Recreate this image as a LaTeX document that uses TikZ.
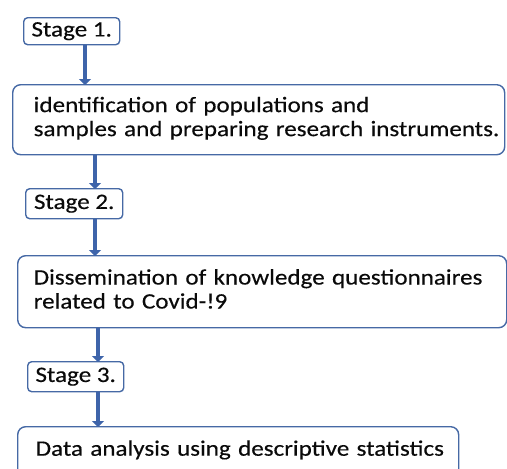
\documentclass[tikz,border=0pt]{standalone}
\usepackage{fontspec}
\setmainfont{Carlito}[FakeStretch=1.14,FakeBold=0.3]
\usetikzlibrary{arrows.meta}
\definecolor{edge}{RGB}{70,105,165}
\definecolor{arrowblue}{RGB}{62,100,170}
\definecolor{ink}{RGB}{10,10,10}
\tikzset{
  box/.style={draw=edge, line width=1.4pt, rounded corners=8pt, fill=white,
    anchor=north west, inner ysep=0pt, text=ink,
    font=\fontsize{22}{24}\selectfont},
  stagebox/.style={box, rounded corners=4pt, inner xsep=0pt},
  flowarrow/.style={draw=arrowblue, line width=4.5pt,
    -{Triangle[width=12pt,length=6pt]}}
}
\begin{document}
\begin{tikzpicture}[x=1pt,y=-1pt]
\useasboundingbox (0,0) rectangle (507,469);
\clip (0,0) rectangle (507,469);
\node[stagebox, minimum width=96pt, minimum height=27pt] (s1) at (23,17) {\mbox{Stage 1.}};
\node[box, minimum width=492pt, minimum height=70pt, inner xsep=21pt, text width=450pt, align=left] (b1) at (12,84)
  {\begin{tabular}{@{}l@{}}identification of populations and\\samples and preparing research instruments.\rule[-8pt]{0pt}{0pt}\end{tabular}};
\node[stagebox, minimum width=97pt, minimum height=30pt] (s2) at (25,188) {\mbox{Stage 2.}};
\node[box, minimum width=489pt, minimum height=72pt, inner xsep=16pt, text width=457pt, align=left] (b2) at (17,255)
  {\begin{tabular}{@{}l@{}}Dissemination of knowledge questionnaires\\related to Covid-!9\rule[-5pt]{0pt}{0pt}\end{tabular}};
\node[stagebox, minimum width=96pt, minimum height=30pt] (s3) at (27,361) {\mbox{Stage 3.}};
\node[box, minimum width=441pt, inner xsep=18pt, text width=405pt, align=left, text height=29pt, text depth=31pt] (b3) at (17,426)
  {\mbox{Data analysis using descriptive statistics}};
\coordinate (a1) at (85,0);
\coordinate (a2) at (95,0);
\coordinate (a3) at (95,0);
\coordinate (a4) at (98,0);
\coordinate (a5) at (98,0);
\draw[flowarrow] (s1.south -| a1) -- ([yshift=-1pt]b1.north -| a1);
\draw[flowarrow] (b1.south -| a2) -- ([yshift=-1pt]s2.north -| a2);
\draw[flowarrow] (s2.south -| a3) -- ([yshift=-1pt]b2.north -| a3);
\draw[flowarrow] (b2.south -| a4) -- ([yshift=-1pt]s3.north -| a4);
\draw[flowarrow] (s3.south -| a5) -- ([yshift=-1pt]b3.north -| a5);
\end{tikzpicture}
\end{document}
